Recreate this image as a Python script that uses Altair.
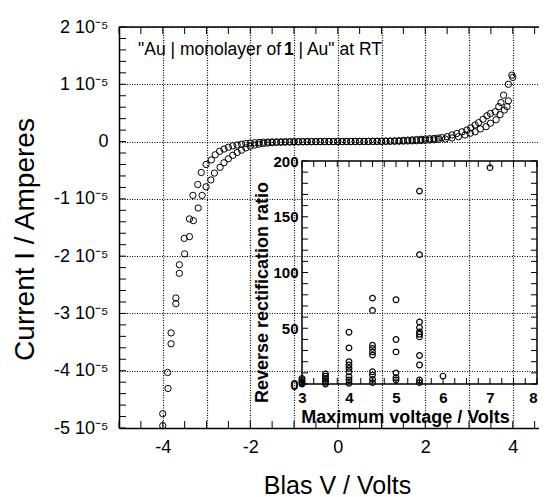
import altair as alt
import pandas as pd

# ---------------- data (current in units of 1e-5 A) ----------------
bias_a = [-4.00, -3.88, -3.81, -3.70, -3.62, -3.50, -3.39, -3.30, -3.19, -3.10,
          -3.01, -2.90, -2.82, -2.69, -2.60, -2.50, -2.40, -2.30, -2.20, -2.10,
          -2.00, -1.90, -1.80, -1.70, -1.60, -1.50, -1.40, -1.30, -1.20, -1.10,
          -1.00, -0.90, -0.80, -0.70, -0.60, -0.50, -0.40, -0.30, -0.20, -0.10,
          0.00, 0.10, 0.20, 0.30, 0.40, 0.50, 0.60, 0.70, 0.80, 0.90,
          1.00, 1.10, 1.20, 1.30, 1.40, 1.50, 1.60, 1.70, 1.80, 1.90,
          2.00, 2.10, 2.20, 2.30, 2.38, 2.50, 2.61, 2.72, 2.84, 2.95,
          3.04, 3.14, 3.22, 3.32, 3.41, 3.49, 3.60, 3.68, 3.73, 3.79,
          3.90, 3.98]
curr_a = [-4.96, -4.31, -3.53, -2.83, -2.30, -1.96, -1.66, -1.38, -1.16, -0.94,
          -0.79, -0.67, -0.55, -0.45, -0.37, -0.30, -0.24, -0.19, -0.15, -0.11,
          -0.08, -0.06, -0.045, -0.035, -0.025, -0.02, -0.015, -0.012, -0.01, -0.008,
          -0.006, -0.005, -0.004, -0.003, -0.002, -0.002, -0.001, -0.001, 0.0, 0.0,
          0.0, 0.0, 0.001, 0.001, 0.002, 0.002, 0.003, 0.003, 0.004, 0.005,
          0.006, 0.008, 0.01, 0.012, 0.015, 0.02, 0.025, 0.03, 0.035, 0.04,
          0.045, 0.05, 0.055, 0.062, 0.068, 0.085, 0.115, 0.14, 0.17, 0.20,
          0.24, 0.29, 0.33, 0.39, 0.45, 0.49, 0.52, 0.61, 0.68, 0.81,
          1.00, 1.16]

bias_b = [-4.00, -3.89, -3.81, -3.70, -3.62, -3.51, -3.39, -3.31, -3.20, -3.12,
          -3.01, -2.89, -2.80, -2.70, -2.60, -2.50, -2.40, -2.30, -2.20, -2.10,
          -2.00, -1.90, -1.80, -1.70, -1.60, -1.50, -1.40, -1.30, -1.20, -1.10,
          -1.00, -0.90, -0.80, -0.70, -0.60, -0.50, -0.40, -0.30, -0.20, -0.10,
          0.00, 0.10, 0.20, 0.30, 0.40, 0.50, 0.60, 0.70, 0.80, 0.90,
          1.00, 1.10, 1.20, 1.30, 1.40, 1.50, 1.60, 1.70, 1.80, 1.90,
          2.00, 2.10, 2.20, 2.30, 2.46, 2.61, 2.76, 2.91, 3.03, 3.14,
          3.26, 3.39, 3.49, 3.62, 3.71, 3.81, 3.87, 3.90, 4.00]
curr_b = [-4.75, -4.03, -3.34, -2.73, -2.15, -1.69, -1.35, -0.94, -0.75, -0.54,
          -0.40, -0.32, -0.23, -0.17, -0.13, -0.10, -0.075, -0.06, -0.045, -0.035,
          -0.025, -0.02, -0.015, -0.01, -0.008, -0.006, -0.005, -0.004, -0.003, -0.002,
          -0.002, -0.001, -0.001, -0.001, 0.0, 0.0, 0.0, 0.0, 0.0, 0.0,
          0.0, 0.0, 0.0, 0.001, 0.001, 0.001, 0.002, 0.002, 0.002, 0.003,
          0.003, 0.004, 0.005, 0.006, 0.007, 0.008, 0.01, 0.012, 0.015, 0.018,
          0.022, 0.026, 0.03, 0.036, 0.045, 0.063, 0.085, 0.115, 0.145, 0.17,
          0.22, 0.26, 0.32, 0.38, 0.47, 0.55, 0.61, 0.71, 1.12]

# inset: reverse rectification ratio vs maximum voltage
vmax = [3, 3, 3, 3, 3,
        3.5, 3.5, 3.5, 3.5, 3.5, 3.5,
        4, 4, 4, 4, 4, 4, 4, 4, 4,
        4.5, 4.5, 4.5, 4.5, 4.5, 4.5, 4.5, 4.5, 4.5, 4.5,
        5, 5, 5, 5, 5, 5,
        5.5, 5.5, 5.5, 5.5, 5.5, 5.5, 5.5, 5.5, 5.5, 5.5, 5.5,
        6, 7]
ratio = [0, 1, 2, 3.5, 5,
         0, 1.5, 3, 5, 7, 9,
         0.6, 3.6, 6.5, 11, 14, 17, 20, 32.4, 46.4,
         1.2, 4.2, 8, 11, 25.9, 28.8, 31.9, 34.8, 66, 77,
         3.6, 5.6, 10, 28.8, 39.9, 75.6,
         1.2, 3.6, 17, 25.6, 42.2, 44.6, 46.7, 50.6, 55.6, 116, 173,
         7.1, 194]

# axis values / tick labels
x_grid = [-4, -3, -2, -1, 0, 1, 2, 3, 4]
y_grid = [-5, -4, -3, -2, -1, 0, 1, 2]
main_xticks = [i / 2 for i in range(-10, 10)]
main_yticks = [i / 5 for i in range(-25, 11)]
inset_xlabels = [3, 4, 5, 6, 7, 8]
inset_ylabels = [0, 50, 100, 150, 200]
inset_xticks = [3 + i / 4 for i in range(0, 21)]
inset_yticks = [i * 10 for i in range(0, 21)]

title_parts = ['"Au | monolayer of', '1', '| Au" at RT']

# ---------------- chart ----------------
FONT = "Liberation Sans"
W, H = 420, 401
one = pd.DataFrame({"k": [0]})


def xs():
    return alt.Scale(domain=[-5, 4.6], nice=False, zero=False)


def ys():
    return alt.Scale(domain=[-5, 2], nice=False, zero=False)


def xi():
    return alt.Scale(domain=[3, 8], range=[183, 418], nice=False, zero=False)


def yi():
    return alt.Scale(domain=[0, 200], range=[357, 134], nice=False, zero=False)


main_df = pd.DataFrame({"V": bias_a + bias_b, "I": curr_a + curr_b})

grid_style = dict(grid=True, gridDash=[1, 1.5], gridColor="black", gridWidth=1.2,
                  gridOpacity=1)

points = alt.Chart(main_df).mark_point(
    shape="circle", filled=False, size=40, strokeWidth=1, color="black", opacity=1
).encode(
    x=alt.X("V:Q", scale=xs(), axis=alt.Axis(
        orient="bottom", values=x_grid, **grid_style,
        ticks=False, tickSize=0, domain=True, domainColor="black",
        domainWidth=1.5, labelExpr="datum.value % 2 == 0 ? '' + datum.value : ''",
        labelFont=FONT, labelFontSize=18, labelColor="black", labelPadding=10,
        labelFlush=False, title="Blas V / Volts", titleFont=FONT, titleFontSize=25,
        titleFontWeight="normal", titleColor="black", titleX=218, titleY=65,
        titleAlign="center", titleBaseline="alphabetic")),
    y=alt.Y("I:Q", scale=ys(), axis=alt.Axis(
        orient="left", values=y_grid, **grid_style,
        ticks=False, tickSize=0, domain=True, domainColor="black",
        domainWidth=1.5,
        labelExpr="datum.value == 0 ? '0' : datum.value + ' 10\u207b\u2075'",
        labelFont=FONT, labelFontSize=18, labelColor="black", labelPadding=11,
        labelFlush=False, title="Current I / Amperes", titleFont=FONT,
        titleFontSize=28, titleFontWeight="normal", titleColor="black",
        titleAngle=270, titleX=-86, titleY=212, titleAlign="center",
        titleBaseline="alphabetic")),
)

top_border = alt.Chart(one).mark_rule(color="black", strokeWidth=1.5).encode(
    y=alt.value(0))

tick_style = dict(color="black", thickness=1, opacity=1)
bot_ticks = alt.Chart(pd.DataFrame({"t": main_xticks})).mark_tick(
    orient="vertical", size=7, yOffset=-3.5, **tick_style).encode(
    x=alt.X("t:Q", scale=xs(), axis=None), y=alt.YDatum(-5, scale=ys(), axis=None))
top_ticks = alt.Chart(pd.DataFrame({"t": main_xticks})).mark_tick(
    orient="vertical", size=7, yOffset=3.5, **tick_style).encode(
    x=alt.X("t:Q", scale=xs(), axis=None), y=alt.YDatum(2, scale=ys(), axis=None))
left_ticks = alt.Chart(pd.DataFrame({"t": main_yticks})).mark_tick(
    orient="horizontal", size=7, xOffset=3.5, **tick_style).encode(
    y=alt.Y("t:Q", scale=ys(), axis=None), x=alt.XDatum(-5, scale=xs(), axis=None))

txt_style = dict(font=FONT, fontSize=17.5, color="black", baseline="alphabetic")
t1 = alt.Chart(one).mark_text(align="left", **txt_style).encode(
    x=alt.value(19), y=alt.value(28), text=alt.value(title_parts[0]))
t2 = alt.Chart(one).mark_text(align="left", fontWeight="bold", **txt_style).encode(
    x=alt.value(165), y=alt.value(28), text=alt.value(title_parts[1]))
t3 = alt.Chart(one).mark_text(align="left", **txt_style).encode(
    x=alt.value(179.5), y=alt.value(28), text=alt.value(title_parts[2]))

# ---- inset ----
inset_df = pd.DataFrame({"vmax": vmax, "ratio": ratio})

ipoints = alt.Chart(inset_df).mark_point(
    shape="circle", filled=False, size=32, strokeWidth=1.2, color="black", opacity=1
).encode(
    x=alt.X("vmax:Q", scale=xi(), axis=alt.Axis(
        orient="bottom", offset=-44, values=inset_xlabels, grid=False, ticks=False,
        tickSize=0, domain=False, labelFont=FONT, labelFontSize=15,
        labelFontWeight="bold", labelColor="black", labelPadding=6, labelFlush=False,
        labelAlign={"condition": {"test": "datum.value == 8", "value": "right"},
                    "value": "center"},
        title="Maximum voltage / Volts", titleFont=FONT, titleFontSize=18,
        titleFontWeight="bold", titleColor="black", titleX=286, titleY=38,
        titleAlign="center", titleBaseline="alphabetic")),
    y=alt.Y("ratio:Q", scale=yi(), axis=alt.Axis(
        orient="left", offset=-183, values=inset_ylabels, grid=False, ticks=False,
        tickSize=0, domain=False, labelFont=FONT, labelFontSize=15,
        labelFontWeight="bold", labelColor="black", labelPadding=4, labelFlush=False,
        title="Reverse rectification ratio", titleFont=FONT, titleFontSize=18,
        titleFontWeight="bold", titleColor="black", titleAngle=270, titleX=-35,
        titleY=265, titleAlign="center", titleBaseline="alphabetic")),
)

iframe = alt.Chart(one).mark_rect(
    fillOpacity=0, stroke="black", strokeWidth=1.5).encode(
    x=alt.XDatum(3, scale=xi(), axis=None), x2=alt.X2Datum(8),
    y=alt.YDatum(0, scale=yi(), axis=None), y2=alt.Y2Datum(200))

ib = alt.Chart(pd.DataFrame({"t": inset_xticks})).mark_tick(
    orient="vertical", size=6, yOffset=-3, **tick_style).encode(
    x=alt.X("t:Q", scale=xi(), axis=None), y=alt.YDatum(0, scale=yi(), axis=None))
it = alt.Chart(pd.DataFrame({"t": inset_xticks})).mark_tick(
    orient="vertical", size=6, yOffset=3, **tick_style).encode(
    x=alt.X("t:Q", scale=xi(), axis=None), y=alt.YDatum(200, scale=yi(), axis=None))
il = alt.Chart(pd.DataFrame({"t": inset_yticks})).mark_tick(
    orient="horizontal", size=6, xOffset=3, **tick_style).encode(
    y=alt.Y("t:Q", scale=yi(), axis=None), x=alt.XDatum(3, scale=xi(), axis=None))
ir = alt.Chart(pd.DataFrame({"t": inset_yticks})).mark_tick(
    orient="horizontal", size=6, xOffset=-3, **tick_style).encode(
    y=alt.Y("t:Q", scale=yi(), axis=None), x=alt.XDatum(8, scale=xi(), axis=None))

chart = alt.layer(
    points, top_border, bot_ticks, top_ticks, left_ticks, t1, t2, t3,
    ipoints, iframe, ib, it, il, ir
).resolve_scale(
    x="independent", y="independent"
).properties(
    width=W, height=H,
    autosize=alt.AutoSizeParams(type="none"),
    padding={"left": 111, "top": 19, "right": 0, "bottom": 69},
    background="white",
).configure_view(stroke=None)

chart.save("out.html", embed_options={"renderer": "svg", "actions": False})
